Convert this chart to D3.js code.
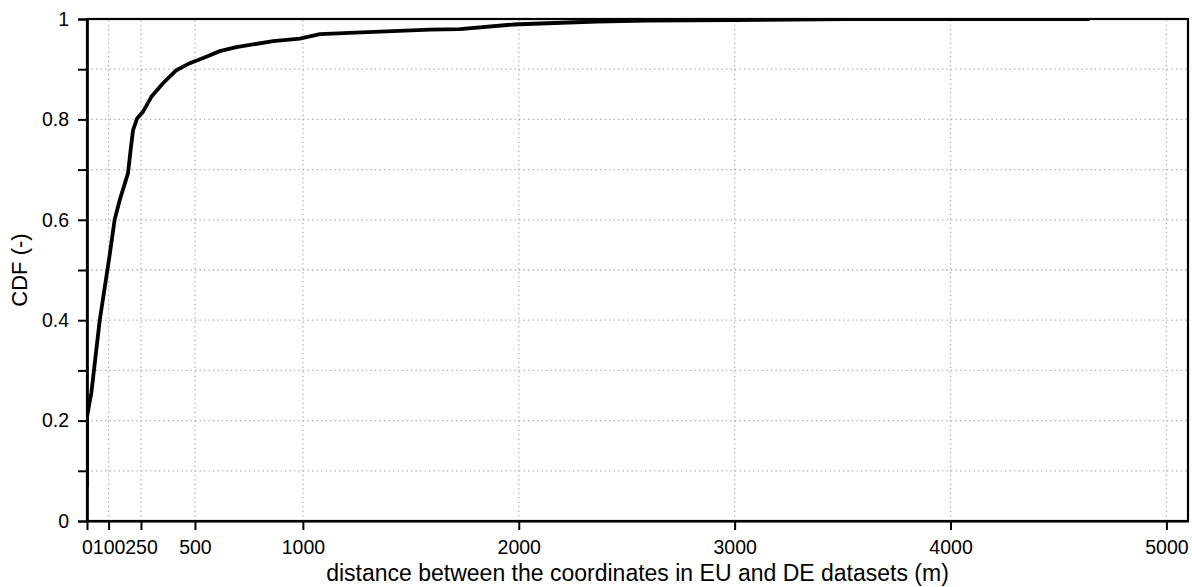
<!DOCTYPE html>
<html>
<head>
<meta charset="utf-8">
<script src="https://cdn.jsdelivr.net/npm/d3@7"></script>
<style>
  body { margin: 0; background: #fff; }
  text { font-family: "Liberation Sans", Arial, sans-serif; }
</style>
</head>
<body>
<div id="chart"></div>
<script>
const w = 1192
const h = 587

// distance (m) and cumulative fraction
const distance = [0, 0, 20, 59, 105, 128, 152, 190, 201, 213, 232, 259, 298, 352, 414, 476, 553, 615, 692, 863, 986, 1079, 1300, 1588, 1727, 1973, 2361, 2593, 3000, 3519, 4644]
const cdf = [0.068, 0.208, 0.255, 0.40, 0.53, 0.60, 0.64, 0.693, 0.735, 0.778, 0.802, 0.815, 0.845, 0.872, 0.898, 0.912, 0.925, 0.936, 0.944, 0.956, 0.961, 0.970, 0.974, 0.979, 0.980, 0.989, 0.995, 0.997, 0.998, 1.0, 1.0]

const xTicks = [0, 100, 250, 500, 1000, 2000, 3000, 4000, 5000]
const yTicks = [0, 0.2, 0.4, 0.6, 0.8, 1]
const yMinor = [0.1, 0.3, 0.5, 0.7, 0.9]

const xLabel = 'distance between the coordinates in EU and DE datasets (m)'
const yLabel = 'CDF (-)'

const m = { left: 87, top: 19, right: 4, bottom: 66 }

const svg = d3.select('#chart')
    .append('svg')
    .attr('width', w)
    .attr('height', h)

const xScale = d3.scaleLinear()
    .domain([0, 5100])
    .range([m.left, w - m.right])

const yScale = d3.scaleLinear()
    .domain([0, 1])
    .range([h - m.bottom, m.top])

svg.append('clipPath')
    .attr('id', 'plot')
    .append('rect')
    .attr('x', xScale(0))
    .attr('y', yScale(1))
    .attr('width', xScale.range()[1] - xScale(0))
    .attr('height', yScale(0) - yScale(1))

// grid
const grid = svg.append('g')
    .attr('stroke', '#aaa')
    .attr('stroke-width', 1.3)
    .attr('stroke-dasharray', '1.3,3.2')

grid.selectAll('.gx')
    .data(xTicks.slice(1))
    .enter()
    .append('line')
    .attr('x1', d => xScale(d))
    .attr('x2', d => xScale(d))
    .attr('y1', yScale(0))
    .attr('y2', yScale(1))

grid.selectAll('.gy')
    .data(yTicks.concat(yMinor).filter(d => d > 0 && d < 1))
    .enter()
    .append('line')
    .attr('x1', xScale(0))
    .attr('x2', xScale.range()[1])
    .attr('y1', d => yScale(d))
    .attr('y2', d => yScale(d))

// curve
const line = d3.line()
    .x((d, i) => xScale(distance[i]))
    .y((d, i) => yScale(cdf[i]))

svg.append('path')
    .datum(cdf)
    .attr('d', line)
    .attr('clip-path', 'url(#plot)')
    .attr('fill', 'none')
    .attr('stroke', '#000')
    .attr('stroke-width', 3.8)
    .attr('stroke-linejoin', 'round')

// axes
const xAxis = d3.axisBottom(xScale)
    .tickValues(xTicks)
    .tickSize(9)
    .tickPadding(10)
    .tickSizeOuter(0)
    .tickFormat(d3.format('d'))

const yAxis = d3.axisLeft(yScale)
    .tickValues(yTicks)
    .tickSize(9)
    .tickPadding(9)
    .tickSizeOuter(0)
    .tickFormat(d => String(+d.toFixed(1)))

svg.append('g')
    .attr('id', 'x-axis')
    .attr('transform', `translate(0, ${yScale(0)})`)
    .call(xAxis)

svg.append('g')
    .attr('id', 'y-axis')
    .attr('transform', `translate(${xScale(0)}, 0)`)
    .call(yAxis)

svg.append('g')
    .attr('transform', `translate(${xScale(0)}, 0)`)
    .call(d3.axisLeft(yScale).tickValues(yMinor).tickSize(9).tickFormat(''))

svg.selectAll('.domain')
    .attr('stroke', '#000')
    .attr('stroke-width', 2.2)
svg.selectAll('.tick line')
    .attr('stroke', '#000')
    .attr('stroke-width', 2)
svg.selectAll('.tick text')
    .attr('fill', '#000')
    .style('font-size', '19.5px')

// box
svg.append('rect')
    .attr('x', xScale(0))
    .attr('y', yScale(1))
    .attr('width', xScale.range()[1] - xScale(0))
    .attr('height', yScale(0) - yScale(1))
    .attr('fill', 'none')
    .attr('stroke', '#000')
    .attr('stroke-width', 2.2)

// labels
svg.append('text')
    .attr('x', (xScale(0) + xScale.range()[1]) / 2)
    .attr('y', h - 6)
    .attr('text-anchor', 'middle')
    .style('font-size', '23px')
    .text(xLabel)

svg.append('text')
    .attr('transform', `translate(27, ${(yScale(0) + yScale(1)) / 2}) rotate(-90)`)
    .attr('text-anchor', 'middle')
    .style('font-size', '22px')
    .text(yLabel)
</script>
</body>
</html>
